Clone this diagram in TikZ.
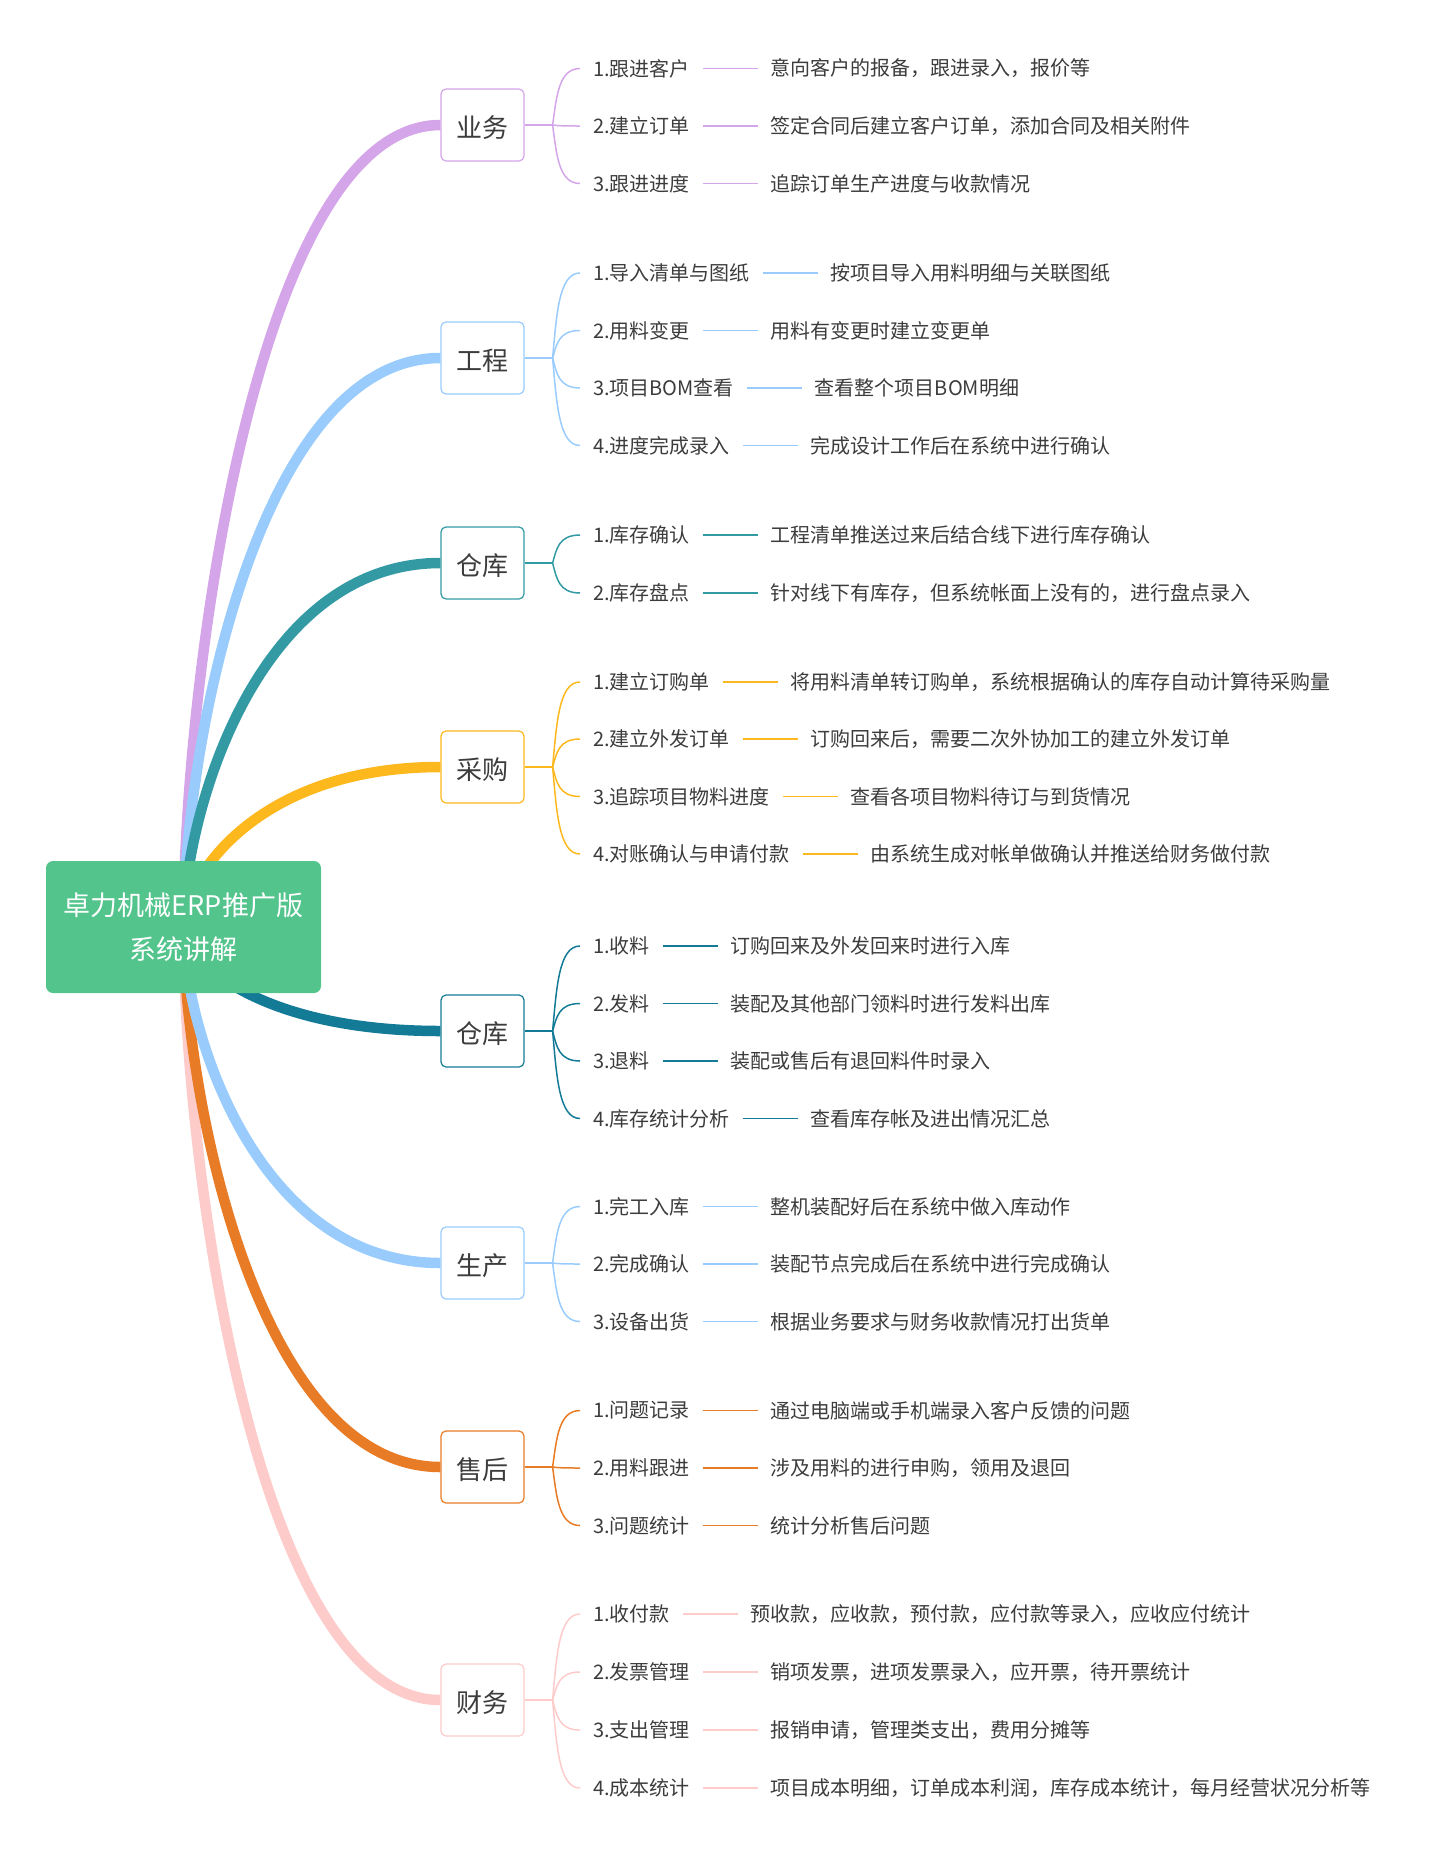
\documentclass[tikz,border=0pt]{standalone}
\usepackage{fontspec}
\setmainfont{Noto Sans CJK SC}
\usetikzlibrary{calc,positioning}
\definecolor{cpurple}{HTML}{D4A5E8}
\definecolor{cblue}{HTML}{99CCFD}
\definecolor{cteal}{HTML}{339AA4}
\definecolor{camber}{HTML}{FDB81E}
\definecolor{cdteal}{HTML}{147B97}
\definecolor{corange}{HTML}{E87B25}
\definecolor{cpink}{HTML}{FECBCB}
\definecolor{cgreen}{HTML}{52C48C}
\definecolor{ctext}{HTML}{3C3C3C}
\pgfdeclarelayer{bg}
\pgfsetlayers{bg,main}
\tikzset{
  rootbox/.style={fill=cgreen, rounded corners=7pt, minimum width=275pt, minimum height=132pt,
    text=white, align=center, font=\fontsize{27}{44}\selectfont},
  catbox/.style={draw=#1, fill=white, line width=1.2pt, rounded corners=5pt,
    minimum width=83pt, minimum height=72pt, text=ctext, inner sep=0pt,
    font=\fontsize{26}{30}\selectfont},
  itemtxt/.style={text=ctext, inner xsep=0pt, inner ysep=2pt, outer xsep=13pt, anchor=west,
    font=\fontsize{20}{24}\selectfont},
  brline/.style={line width=10.5pt, draw=#1},
  stemline/.style={line width=2pt, draw=#1},
  leafline/.style={line width=1.5pt, draw=#1},
}
\newcommand\branchcurve[2]{%
  \draw[brline=#1] (root.center) .. controls ($(root.center)!0.3!(root.center |- #2.west)$)
    and ($(root.center |- #2.west)!0.28!(#2.west)$) .. (#2.west);}
\newcommand\leafrow[6]{%
  \node[itemtxt] (#2) at (580,#3+1) {#4};
  \node[itemtxt, right=55pt of #2] (#2d) {#5};
  \draw[leafline=#6] (#2) -- (#2d);
  \draw[leafline=#6] (#1) .. controls ($(#1)!0.5!(#1 |- #2.west)+(4,0)$)
    and ($(#1 |- #2.west)+(6,0)$) .. (#2.west);}
\newcommand\catnode[4]{%
  \node[catbox=#3] (#1) at (482.5,#2) {\raisebox{-3pt}[\height][\depth]{#4}};
  \coordinate (#1j) at ($(#1.east)+(28,0)$);
  \draw[stemline=#3] (#1.east) -- (#1j);}
\begin{document}
\begin{tikzpicture}[x=1pt,y=-1pt]
\useasboundingbox (0,0) rectangle (1437,1864);
\node[rootbox] (root) at (183.5,927) {卓力机械ERP推广版\\系统讲解};

\catnode{ca}{125}{cpurple}{业务}
\catnode{cb}{358}{cblue}{工程}
\catnode{cc}{563}{cteal}{仓库}
\catnode{cd}{767}{camber}{采购}
\catnode{ce}{1031}{cdteal}{仓库}
\catnode{cf}{1263}{cblue}{生产}
\catnode{cg}{1467}{corange}{售后}
\catnode{ch}{1700}{cpink}{财务}

\begin{pgfonlayer}{bg}
\branchcurve{cpurple}{ca}
\branchcurve{cblue}{cb}
\branchcurve{cteal}{cc}
\branchcurve{camber}{cd}
\branchcurve{cpink}{ch}
\branchcurve{corange}{cg}
\branchcurve{cblue}{cf}
\branchcurve{cdteal}{ce}
\end{pgfonlayer}

\leafrow{caj}{a1}{67.5}{1.跟进客户}{意向客户的报备，跟进录入，报价等}{cpurple}
\leafrow{caj}{a2}{125}{2.建立订单}{签定合同后建立客户订单，添加合同及相关附件}{cpurple}
\leafrow{caj}{a3}{182.5}{3.跟进进度}{追踪订单生产进度与收款情况}{cpurple}

\leafrow{cbj}{b1}{272}{1.导入清单与图纸}{按项目导入用料明细与关联图纸}{cblue}
\leafrow{cbj}{b2}{329.5}{2.用料变更}{用料有变更时建立变更单}{cblue}
\leafrow{cbj}{b3}{387}{3.项目BOM查看}{查看整个项目BOM明细}{cblue}
\leafrow{cbj}{b4}{444.5}{4.进度完成录入}{完成设计工作后在系统中进行确认}{cblue}

\leafrow{ccj}{c1}{534}{1.库存确认}{工程清单推送过来后结合线下进行库存确认}{cteal}
\leafrow{ccj}{c2}{592}{2.库存盘点}{针对线下有库存，但系统帐面上没有的，进行盘点录入}{cteal}

\leafrow{cdj}{d1}{681}{1.建立订购单}{将用料清单转订购单，系统根据确认的库存自动计算待采购量}{camber}
\leafrow{cdj}{d2}{738}{2.建立外发订单}{订购回来后，需要二次外协加工的建立外发订单}{camber}
\leafrow{cdj}{d3}{795.5}{3.追踪项目物料进度}{查看各项目物料待订与到货情况}{camber}
\leafrow{cdj}{d4}{853}{4.对账确认与申请付款}{由系统生成对帐单做确认并推送给财务做付款}{camber}

\leafrow{cej}{e1}{945}{1.收料}{订购回来及外发回来时进行入库}{cdteal}
\leafrow{cej}{e2}{1002.5}{2.发料}{装配及其他部门领料时进行发料出库}{cdteal}
\leafrow{cej}{e3}{1060}{3.退料}{装配或售后有退回料件时录入}{cdteal}
\leafrow{cej}{e4}{1117.5}{4.库存统计分析}{查看库存帐及进出情况汇总}{cdteal}

\leafrow{cfj}{f1}{1205.5}{1.完工入库}{整机装配好后在系统中做入库动作}{cblue}
\leafrow{cfj}{f2}{1263}{2.完成确认}{装配节点完成后在系统中进行完成确认}{cblue}
\leafrow{cfj}{f3}{1320.5}{3.设备出货}{根据业务要求与财务收款情况打出货单}{cblue}

\leafrow{cgj}{g1}{1409.5}{1.问题记录}{通过电脑端或手机端录入客户反馈的问题}{corange}
\leafrow{cgj}{g2}{1467}{2.用料跟进}{涉及用料的进行申购，领用及退回}{corange}
\leafrow{cgj}{g3}{1524.5}{3.问题统计}{统计分析售后问题}{corange}

\leafrow{chj}{h1}{1613}{1.收付款}{预收款，应收款，预付款，应付款等录入，应收应付统计}{cpink}
\leafrow{chj}{h2}{1671}{2.发票管理}{销项发票，进项发票录入，应开票，待开票统计}{cpink}
\leafrow{chj}{h3}{1729}{3.支出管理}{报销申请，管理类支出，费用分摊等}{cpink}
\leafrow{chj}{h4}{1787}{4.成本统计}{项目成本明细，订单成本利润，库存成本统计，每月经营状况分析等}{cpink}
\end{tikzpicture}
\end{document}
